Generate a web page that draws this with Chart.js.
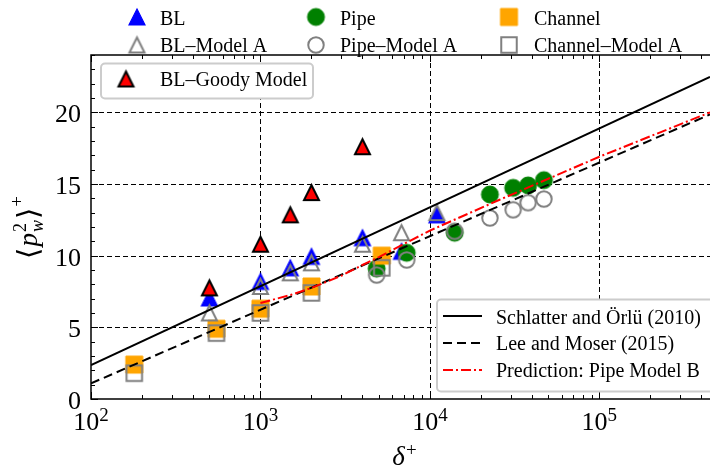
<!DOCTYPE html>
<html>
<head>
<meta charset="utf-8">
<script src="https://cdn.jsdelivr.net/npm/chart.js@4.4.1/dist/chart.umd.min.js"></script>
<style>
  body { margin: 0; background: #fff; }
  canvas { display: block; }
</style>
</head>
<body>
<canvas id="myChart" width="710" height="468"></canvas>
<script>
// data (delta+ on log axis, <p_w^2>+ on linear axis)
const blDelta = [500, 1000, 1500, 2000, 4000, 6800, 11000];
const blValue = [7.05, 8.2, 9.15, 9.95, 11.25, 10.3, 12.85];
const blModelADelta = [500, 1000, 1500, 2000, 4000, 6800, 11000];
const blModelAValue = [6.0, 7.85, 8.8, 9.5, 10.8, 11.6, 13.0];
const goodyDelta = [500, 1000, 1500, 2000, 4000];
const goodyValue = [7.75, 10.8, 12.85, 14.4, 17.6];
const pipeDelta = [4850, 7300, 14000, 22600, 31000, 38000, 47100];
const pipeValue = [9.1, 10.2, 11.6, 14.27, 14.73, 14.9, 15.27];
const pipeModelADelta = [4850, 7300, 14000, 22600, 31000, 38000, 47100];
const pipeModelAValue = [8.65, 9.7, 11.7, 12.63, 13.2, 13.7, 13.95];
const channelDelta = [180, 550, 1000, 2000, 5200];
const channelValue = [2.4, 4.9, 6.3, 7.85, 10.0];
const channelModelADelta = [180, 550, 1000, 2000, 5200];
const channelModelAValue = [1.8, 4.6, 6.0, 7.4, 9.15];

const schlatterDelta = [100, 450000];
const schlatterValue = [2.37, 22.47];
const leeDelta = [100, 450000];
const leeValue = [1.09, 19.85];
const predictionDelta = [1000, 1500, 2000, 3000, 4000, 5000, 6600, 10000, 25800, 100000, 450000];
const predictionValue = [6.7, 7.25, 7.75, 8.6, 9.35, 9.9, 10.65, 11.75, 13.9, 16.9, 20.0];

const xExponents = [2, 3, 4, 5];
const yTickValues = [0, 5, 10, 15, 20];

const SERIF = '"Liberation Serif", "DejaVu Serif", serif';

function pts(xs, ys) {
  return xs.map((x, i) => ({ x: x, y: ys[i] }));
}

// marker images, centred on the point like matplotlib markers
function marker(shape, size, fill, stroke, lw) {
  const pad = Math.ceil(lw) + 2;
  const dim = Math.ceil(size + 2 * pad);
  const c = document.createElement('canvas');
  c.width = dim; c.height = dim;
  const g = c.getContext('2d');
  const m = dim / 2, h = size / 2;
  g.beginPath();
  if (shape === 'triangle') {
    g.moveTo(m, m - h); g.lineTo(m + h, m + h); g.lineTo(m - h, m + h); g.closePath();
  } else if (shape === 'circle') {
    g.arc(m, m, h, 0, Math.PI * 2);
  } else {
    g.rect(m - h, m - h, size, size);
  }
  if (fill) { g.fillStyle = fill; g.fill(); }
  if (stroke && lw) { g.lineWidth = lw; g.strokeStyle = stroke; g.lineJoin = 'miter'; g.stroke(); }
  return c;
}

const mk = {
  bl: marker('triangle', 16, '#0000ff', '#0000ff', 1.2),
  blA: marker('triangle', 15, null, '#808080', 2),
  goody: marker('triangle', 15, '#ff0000', '#000000', 2),
  pipe: marker('circle', 17, '#008000', '#008000', 1),
  pipeA: marker('circle', 15.5, null, '#808080', 2),
  channel: marker('square', 17, '#ffa500', '#ffa500', 1),
  channelA: marker('square', 15.5, null, '#808080', 2)
};

function scatterSet(label, xs, ys, img) {
  return { label: label, data: pts(xs, ys), pointStyle: img, pointRadius: 9, showLine: false };
}
function lineSet(label, xs, ys, color, dash) {
  return { label: label, data: pts(xs, ys), showLine: true, pointRadius: 0,
    borderColor: color, borderWidth: 2, borderDash: dash, fill: false };
}

// drawn from last to first, so the first entries sit on top
const datasets = [
  lineSet('Prediction: Pipe Model B', predictionDelta, predictionValue, '#ff0000', [10, 3, 2, 3]),
  lineSet('Lee and Moser (2015)', leeDelta, leeValue, '#000000', [9, 5]),
  lineSet('Schlatter and Örlü (2010)', schlatterDelta, schlatterValue, '#000000', []),
  scatterSet('BL–Goody Model', goodyDelta, goodyValue, mk.goody),
  scatterSet('Channel–Model A', channelModelADelta, channelModelAValue, mk.channelA),
  scatterSet('Pipe–Model A', pipeModelADelta, pipeModelAValue, mk.pipeA),
  scatterSet('BL–Model A', blModelADelta, blModelAValue, mk.blA),
  scatterSet('Channel', channelDelta, channelValue, mk.channel),
  scatterSet('Pipe', pipeDelta, pipeValue, mk.pipe),
  scatterSet('BL', blDelta, blValue, mk.bl)
];

function roundBox(ctx, x, y, w, h, r) {
  ctx.beginPath();
  ctx.moveTo(x + r, y);
  ctx.arcTo(x + w, y, x + w, y + h, r);
  ctx.arcTo(x + w, y + h, x, y + h, r);
  ctx.arcTo(x, y + h, x, y, r);
  ctx.arcTo(x, y, x + w, y, r);
  ctx.closePath();
  ctx.fillStyle = '#ffffff';
  ctx.fill();
  ctx.lineWidth = 2;
  ctx.strokeStyle = '#cccccc';
  ctx.stroke();
}

function drawImg(ctx, img, cx, cy) {
  ctx.drawImage(img, cx - img.width / 2, cy - img.height / 2);
}

const decor = {
  id: 'decor',
  beforeDatasetsDraw(chart) {
    const { ctx, chartArea: a, scales: { x, y } } = chart;
    ctx.save();
    ctx.strokeStyle = '#000';
    ctx.lineWidth = 1;
    ctx.setLineDash([5, 3]);
    xExponents.slice(1).forEach(e => {
      const px = Math.round(x.getPixelForValue(Math.pow(10, e))) + 0.5;
      ctx.beginPath(); ctx.moveTo(px, a.top); ctx.lineTo(px, a.bottom); ctx.stroke();
    });
    yTickValues.slice(1).forEach(v => {
      const py = Math.round(y.getPixelForValue(v)) + 0.5;
      ctx.beginPath(); ctx.moveTo(a.left, py); ctx.lineTo(a.right, py); ctx.stroke();
    });
    ctx.restore();
  },
  afterDatasetsDraw(chart) {
    const { ctx, chartArea: a, scales: { x, y } } = chart;
    ctx.save();
    // ticks, pointing inward
    ctx.strokeStyle = '#000';
    ctx.lineWidth = 1;
    for (let e = 2; e <= 5; e++) {
      for (let m = 1; m <= 9; m++) {
        const v = m * Math.pow(10, e);
        if (v > x.max) break;
        const px = Math.round(x.getPixelForValue(v)) + 0.5;
        const len = m === 1 ? 7 : 4;
        ctx.beginPath();
        ctx.moveTo(px, a.bottom); ctx.lineTo(px, a.bottom - len);
        ctx.moveTo(px, a.top); ctx.lineTo(px, a.top + len);
        ctx.stroke();
      }
    }
    for (let v = 0; v <= 24; v++) {
      const py = Math.round(y.getPixelForValue(v)) + 0.5;
      const len = v % 5 === 0 ? 7 : 4;
      ctx.beginPath(); ctx.moveTo(a.left, py); ctx.lineTo(a.left + len, py); ctx.stroke();
    }
    // frame
    ctx.lineWidth = 1.5;
    ctx.beginPath();
    ctx.moveTo(a.right + 5, a.top); ctx.lineTo(a.left, a.top);
    ctx.lineTo(a.left, a.bottom); ctx.lineTo(a.right + 5, a.bottom);
    ctx.stroke();

    // tick labels
    ctx.fillStyle = '#000';
    ctx.textBaseline = 'alphabetic';
    ctx.font = '26px ' + SERIF;
    ctx.textAlign = 'right';
    yTickValues.forEach(v => {
      ctx.fillText(String(v), a.left - 10, y.getPixelForValue(v) + 10);
    });
    ctx.textAlign = 'left';
    xExponents.forEach(e => {
      const px = x.getPixelForValue(Math.pow(10, e));
      ctx.font = '26px ' + SERIF;
      const w1 = ctx.measureText('10').width;
      ctx.font = '19px ' + SERIF;
      const w2 = ctx.measureText(String(e)).width;
      const x0 = px - (w1 + w2) / 2;
      ctx.font = '26px ' + SERIF;
      ctx.fillText('10', x0, a.bottom + 31);
      ctx.font = '19px ' + SERIF;
      ctx.fillText(String(e), x0 + w1, a.bottom + 22);
    });

    // x axis title: delta+
    ctx.font = 'italic 27px ' + SERIF;
    const wd = ctx.measureText('δ').width;
    ctx.font = '19px ' + SERIF;
    const wp = ctx.measureText('+').width;
    const cx = 404 - (wd + wp) / 2;
    ctx.font = 'italic 27px ' + SERIF;
    ctx.fillText('δ', cx, 465);
    ctx.font = '19px ' + SERIF;
    ctx.fillText('+', cx + wd + 1, 456);

    // y axis title: <p_w^2>+
    ctx.save();
    ctx.translate(37, (a.top + a.bottom) / 2);
    ctx.rotate(-Math.PI / 2);
    const parts = [
      { t: '⟨', f: '29px "DejaVu Serif"', dy: 1 },
      { t: 'p', f: 'italic 27px ' + SERIF, dy: 0 },
      { stack: [{ t: '2', f: '18px ' + SERIF, dy: -11 }, { t: 'w', f: 'italic 18px ' + SERIF, dy: 6 }] },
      { t: '⟩', f: '29px "DejaVu Serif"', dy: 1 },
      { t: '+', f: '19px ' + SERIF, dy: -14 }
    ];
    let total = 0;
    parts.forEach(p => {
      if (p.stack) {
        p.w = Math.max(...p.stack.map(s => { ctx.font = s.f; return ctx.measureText(s.t).width; }));
      } else {
        ctx.font = p.f; p.w = ctx.measureText(p.t).width;
      }
      total += p.w + 1;
    });
    let tx = -total / 2;
    parts.forEach(p => {
      if (p.stack) {
        p.stack.forEach(s => { ctx.font = s.f; ctx.fillText(s.t, tx, s.dy); });
      } else {
        ctx.font = p.f; ctx.fillText(p.t, tx, p.dy);
      }
      tx += p.w + 1;
    });
    ctx.restore();

    // legend above the axes
    ctx.font = '20px ' + SERIF;
    ctx.textAlign = 'left';
    const top = [
      [mk.bl, 'BL', 137, 17, 160, 24.5],
      [mk.blA, 'BL–Model A', 137, 45, 160, 52],
      [mk.pipe, 'Pipe', 316, 17, 340, 24.5],
      [mk.pipeA, 'Pipe–Model A', 316, 45, 340, 52],
      [mk.channel, 'Channel', 509, 17, 534, 24.5],
      [mk.channelA, 'Channel–Model A', 509, 45, 534, 52]
    ];
    top.forEach(r => { drawImg(ctx, r[0], r[2], r[3]); ctx.fillText(r[1], r[4], r[5]); });

    // Goody legend box
    roundBox(ctx, 101, 63.5, 212, 35, 4);
    drawImg(ctx, mk.goody, 126, 79);
    ctx.fillStyle = '#000';
    ctx.fillText('BL–Goody Model', 160, 86);

    // lines legend box
    roundBox(ctx, 437, 299.5, 280, 92, 4);
    const rows = [
      ['Schlatter and Örlü (2010)', '#000000', [], 316, 323.5],
      ['Lee and Moser (2015)', '#000000', [9, 5], 343, 350],
      ['Prediction: Pipe Model B', '#ff0000', [10, 3, 2, 3], 370, 376.5]
    ];
    rows.forEach(r => {
      ctx.strokeStyle = r[1];
      ctx.lineWidth = 2;
      ctx.setLineDash(r[2]);
      ctx.beginPath(); ctx.moveTo(443, r[3]); ctx.lineTo(482, r[3]); ctx.stroke();
      ctx.setLineDash([]);
      ctx.fillStyle = '#000';
      ctx.fillText(r[0], 496, r[4]);
    });
    ctx.restore();
  }
};

new Chart(document.getElementById('myChart').getContext('2d'), {
  type: 'scatter',
  data: { datasets: datasets },
  options: {
    responsive: false,
    animation: false,
    devicePixelRatio: 1,
    layout: { autoPadding: false, padding: { left: 91, right: 0, top: 55, bottom: 69 } },
    plugins: { legend: { display: false }, tooltip: { enabled: false } },
    scales: {
      x: { type: 'logarithmic', min: 100, max: 450000, display: false },
      y: { type: 'linear', min: 0, max: 24, display: false }
    }
  },
  plugins: [decor]
});
</script>
</body>
</html>
